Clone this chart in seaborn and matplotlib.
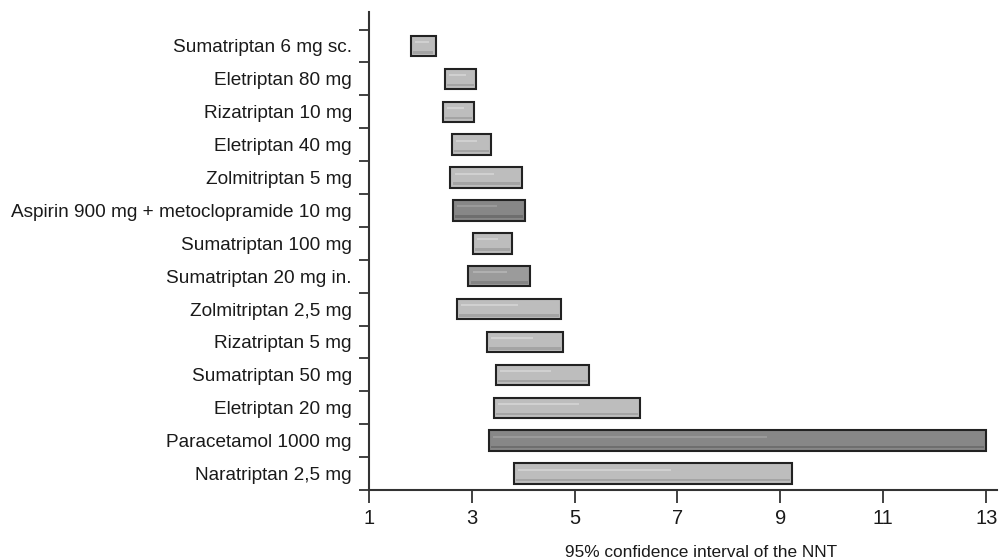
import matplotlib
matplotlib.use("Agg")
import matplotlib.pyplot as plt
import seaborn as sns
import numpy as np

# Data, top to bottom as in the figure
drugs = [
    "Sumatriptan 6 mg sc.",
    "Eletriptan 80 mg",
    "Rizatriptan 10 mg",
    "Eletriptan 40 mg",
    "Zolmitriptan 5 mg",
    "Aspirin 900 mg + metoclopramide 10 mg",
    "Sumatriptan 100 mg",
    "Sumatriptan 20 mg in.",
    "Zolmitriptan 2,5 mg",
    "Rizatriptan 5 mg",
    "Sumatriptan 50 mg",
    "Eletriptan 20 mg",
    "Paracetamol 1000 mg",
    "Naratriptan 2,5 mg",
]
ci_low = [1.83, 2.48, 2.44, 2.61, 2.59, 2.64, 3.02, 2.94, 2.71, 3.29, 3.47, 3.44, 3.34, 3.83]
ci_high = [2.30, 3.08, 3.04, 3.37, 3.98, 4.04, 3.78, 4.14, 4.74, 4.77, 5.28, 6.28, 13.0, 9.22]
shade = ["light", "light", "light", "light", "light", "dark", "light",
         "mid", "light", "light", "light", "light", "dark", "light"]
x_ticks = [1, 3, 5, 7, 9, 11, 13]

palette = {"light": "#bdbdbd", "mid": "#9b9b9b", "dark": "#878787"}
streak = {"light": "#d0d0d0", "mid": "#b0b0b0", "dark": "#9a9a9a"}
under = {"light": "#a4a4a4", "mid": "#858585", "dark": "#6e6e6e"}

sns.set_theme(style="ticks")
plt.rcParams['font.family'] = ['Liberation Sans', 'DejaVu Sans']

fig = plt.figure(figsize=(9.99, 5.59), dpi=100)
ax = fig.add_axes([0.369, 0.1234, 0.6286, 0.855])

pos = np.arange(len(drugs))
low = np.array(ci_low)
high = np.array(ci_high)
span = high - low
ax.barh(pos, span, left=low, height=0.62,
        color=[palette[s] for s in shade], edgecolor="#222222", linewidth=1.5, zorder=3)
# a little shading inside the bars, like the drawn originals
ax.barh(pos + 0.19, span - 0.08, left=low + 0.04, height=0.08,
        color=[under[s] for s in shade], linewidth=0, zorder=4)
ax.barh(pos - 0.12, span * 0.55, left=low + 0.08, height=0.06,
        color=[streak[s] for s in shade], linewidth=0, zorder=4)

ax.set_ylim(13.5, -1.03)
ax.set_xlim(1, 13.2)

ax.set_yticks(pos)
ax.set_yticklabels(drugs, fontsize=13.7, color="#1a1a1a")
ax.set_yticks(np.arange(-0.5, len(drugs), 1), minor=True)
ax.tick_params(axis="y", which="major", length=0, pad=12)
ax.tick_params(axis="y", which="minor", length=7, width=1.3, color="#333333")

ax.set_xticks(x_ticks)
ax.set_xticklabels([str(t) for t in x_ticks], fontsize=14.5, color="#1a1a1a")
ax.tick_params(axis="x", length=9, width=1.3, color="#333333", pad=5)

ax.set_xlabel("95% confidence interval of the NNT", fontsize=12.4, color="#1a1a1a")
ax.xaxis.set_label_coords(0.530, -0.114)

sns.despine(ax=ax)
for side in ["left", "bottom"]:
    ax.spines[side].set_linewidth(1.5)
    ax.spines[side].set_color("#333333")

fig.savefig("out.png", dpi=100)
